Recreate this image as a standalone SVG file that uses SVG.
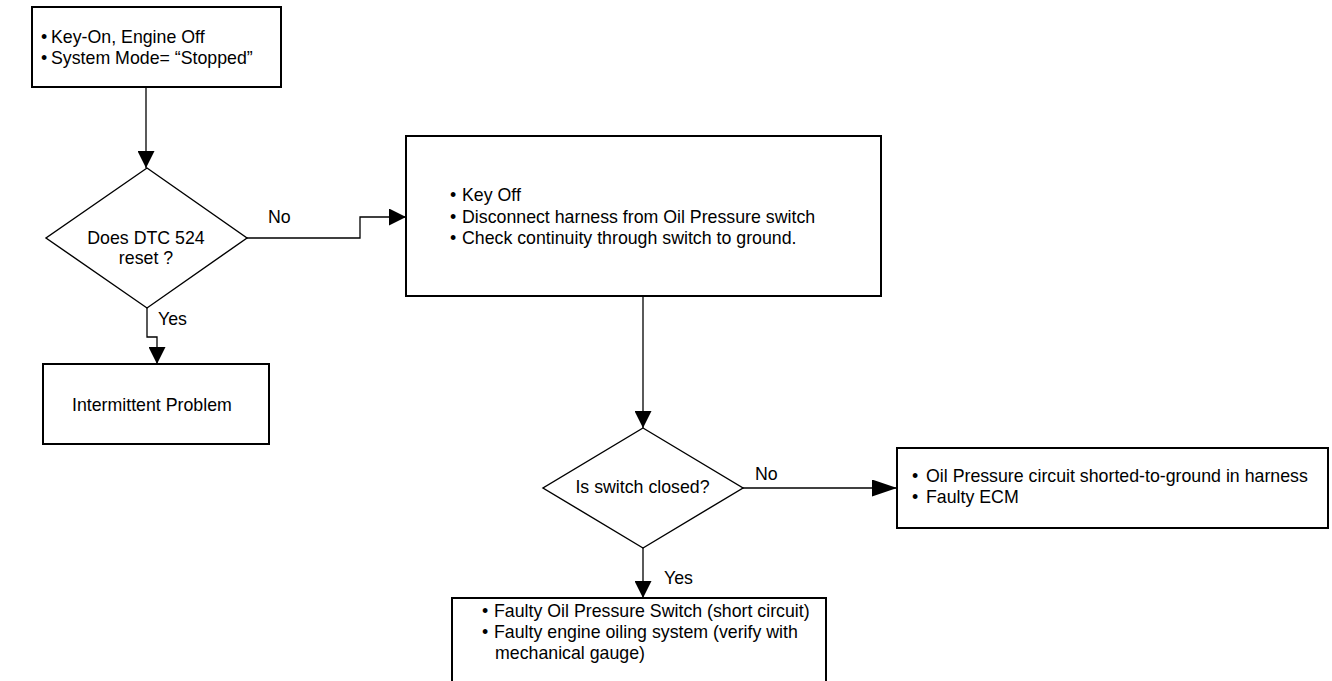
<svg xmlns="http://www.w3.org/2000/svg" width="1332" height="681" viewBox="0 0 1332 681">
<style>
  .box { fill: #ffffff; stroke: #000000; stroke-width: 2; }
  .dia { fill: #ffffff; stroke: #000000; stroke-width: 1.4; }
  .con { fill: none; stroke: #000000; stroke-width: 1.3; }
  text { font-family: "Liberation Sans", Arial, sans-serif; font-size: 17.75px; fill: #000000; }
  .c { text-anchor: middle; }
</style>
<defs>
  <marker id="arr" markerUnits="userSpaceOnUse" markerWidth="17" markerHeight="17" refX="17" refY="8.5" orient="auto">
    <path d="M0,0 L17,8.5 L0,17 z" fill="#000000"/>
  </marker>
  <marker id="arrL" markerUnits="userSpaceOnUse" markerWidth="25" markerHeight="17" refX="25" refY="8.5" orient="auto">
    <path d="M0,0 L25,8.5 L0,17 z" fill="#000000"/>
  </marker>
</defs>
<rect width="1332" height="681" fill="#ffffff"/>

<g id="connectors">
  <path class="con" d="M146,87 V168" marker-end="url(#arr)"/>
  <path class="con" d="M247,238 H360 V217 H406" marker-end="url(#arr)"/>
  <path class="con" d="M147,308 V337 H157 V364" marker-end="url(#arr)"/>
  <path class="con" d="M643,296 V428" marker-end="url(#arr)"/>
  <path class="con" d="M743,488 H897" marker-end="url(#arrL)"/>
  <path class="con" d="M643,548 V598" marker-end="url(#arr)"/>
  <text x="268" y="223">No</text>
  <text x="158" y="325">Yes</text>
  <text x="755" y="480">No</text>
  <text x="664" y="584">Yes</text>
</g>

<g id="start">
  <rect class="box" x="32" y="7" width="249" height="80"/>
  <text y="43"><tspan x="41">•</tspan><tspan x="51">Key-On, Engine Off</tspan></text>
  <text y="64"><tspan x="41">•</tspan><tspan x="51">System Mode= “Stopped”</tspan></text>
</g>

<g id="decision1">
  <polygon class="dia" points="147,168 247,238 147,308 46,238"/>
  <text class="c" x="146" y="244">Does DTC 524</text>
  <text class="c" x="146" y="264">reset ?</text>
</g>

<g id="intermittent">
  <rect class="box" x="43" y="364" width="226" height="80"/>
  <text x="72" y="411">Intermittent Problem</text>
</g>

<g id="keyoff">
  <rect class="box" x="406" y="136" width="475" height="160"/>
  <text y="201"><tspan x="450">•</tspan><tspan x="462">Key Off</tspan></text>
  <text y="222.5"><tspan x="450">•</tspan><tspan x="462">Disconnect harness from Oil Pressure switch</tspan></text>
  <text y="244"><tspan x="450">•</tspan><tspan x="462">Check continuity through switch to ground.</tspan></text>
</g>

<g id="decision2">
  <polygon class="dia" points="643,428 743,488 643,548 543,488"/>
  <text class="c" x="642.5" y="493">Is switch closed?</text>
</g>

<g id="shorted">
  <rect class="box" x="897" y="448" width="431" height="80"/>
  <text y="482"><tspan x="912">•</tspan><tspan x="926">Oil Pressure circuit shorted-to-ground in harness</tspan></text>
  <text y="503"><tspan x="912">•</tspan><tspan x="926">Faulty ECM</tspan></text>
</g>

<g id="faultyswitch">
  <rect class="box" x="452" y="598" width="374" height="100"/>
  <text y="617"><tspan x="482">•</tspan><tspan x="494">Faulty Oil Pressure Switch (short circuit)</tspan></text>
  <text y="638"><tspan x="482">•</tspan><tspan x="494">Faulty engine oiling system (verify with</tspan></text>
  <text x="495" y="659">mechanical gauge)</text>
</g>
</svg>
